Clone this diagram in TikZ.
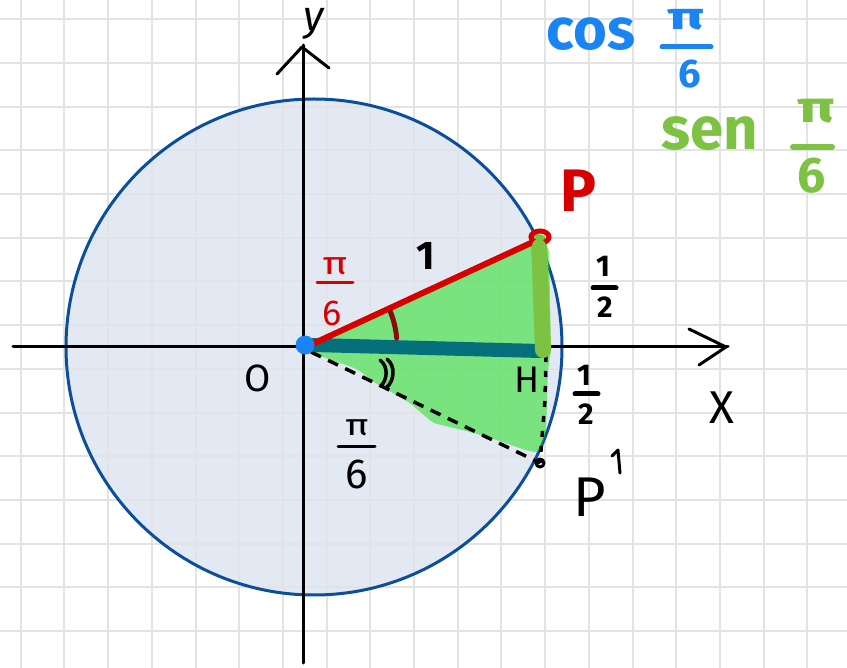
\documentclass[tikz,border=0pt]{standalone}
\usepackage{fontspec}
\usepackage{graphicx}
\setmainfont{Fira Sans}
\definecolor{circfill}{HTML}{E3E9F2}
\definecolor{circline}{HTML}{0B4F9C}
\definecolor{myred}{HTML}{D60000}
\definecolor{darkred}{HTML}{8B0A0A}
\definecolor{myblue}{HTML}{1A84F2}
\definecolor{mygreen}{HTML}{7DC242}
\definecolor{tealc}{HTML}{066F7C}
\definecolor{fillgreen}{HTML}{22E022}
\newcommand{\fs}[1]{\fontsize{#1}{#1}\selectfont}
\tikzset{
  gridline/.style={black!11, line width=2pt},
  axisline/.style={black, line width=3pt, line cap=round, line join=round},
  lbl/.style={inner sep=0pt, outer sep=0pt},
  fracbar/.style={line width=#1, line cap=round},
  pen/.style={black, line width=3.5pt, line cap=round, line join=round},
}
\begin{document}
\begin{tikzpicture}[x=1pt,y=-1pt]
\useasboundingbox (0,0) rectangle (847,668);
\fill[white] (0,0) rectangle (847,668);
% circle fill
\fill[circfill] (314,347) circle[radius=248pt];
% grid
\foreach \k in {0,...,18} \draw[gridline] ({20.7+43.7*\k},0) -- ({20.7+43.7*\k},668);
\foreach \k in {0,...,14} \draw[gridline] (0,{19.3+43.7*\k}) -- (847,{19.3+43.7*\k});
% circle outline
\draw[circline, line width=3pt] (314,347) circle[radius=248pt];
% axes
\coordinate (xl) at (13,347);
\coordinate (xr) at (728,347);
\coordinate (yt) at (303,45);
\coordinate (yb) at (303,663);
\draw[axisline] (xl) -- (xr);
\draw[axisline] (yb) -- (yt);
\draw[axisline] (689,329) -- (726,347) -- (699,365);
\draw[axisline] (277,74) -- (302,47) -- (329,68);
% points
\coordinate (O) at (308,346);
\coordinate (P) at (539,239);
\coordinate (H) at (545,351);
\coordinate (Pp) at (540,463);
% green fill
\fill[fillgreen, opacity=0.55, rounded corners=5pt] (308,345) -- (536,240) -- (549,247) -- (551,350) -- (548,370) -- (546,432) -- (539,453) -- (525,450) -- (500,441) -- (470,432) -- (433,423) -- (410,403) -- (377,384) -- (357,369) -- (315,354) -- cycle;
% dashed lines
\draw[pen, line cap=butt, dash pattern=on 11pt off 8pt] (311,352) -- (Pp);
\draw[pen, line cap=butt, dash pattern=on 6pt off 9pt] (546,356) -- (545,400) -- (Pp);
\draw[pen, line width=3pt] (Pp) circle[radius=4pt];
% teal segment
\draw[tealc, line width=14pt, line cap=round] (313,345) -- (540,351);
% olive vertical
\draw[mygreen, line width=16pt, line cap=round] (539,242) -- (543,350);
% red radius
\draw[myred, line width=6pt, line cap=round] (O) -- (533,242);
\draw[myred, line width=5pt] (540,237) ellipse[x radius=9pt, y radius=6pt];
\draw[mygreen, line width=14pt, line cap=round] (539,246) -- (540,260);
% angle marks
\draw[darkred, line width=5pt, line cap=round] plot[domain=5:22, smooth, variable=\t] ({305+92*cos(\t)},{346-92*sin(\t)});
\draw[pen] (380,360) .. controls (389,367) and (387,380) .. (381,386);
\draw[pen] (387,359) .. controls (396,366) and (394,381) .. (387,387);
% blue dot
\fill[myblue] (305,345) circle[radius=9.5pt];
% labels
\node[lbl, font=\fs{42}\itshape] (ylab) at (314,24) {y};
\node[lbl, font=\fs{46}] (xlab) at (722,408) {X};
\node[lbl, font=\fs{38}] (olab) at (258,378) {O};
\node[lbl, font=\fs{40}\bfseries] (one) at (426,256) {1};
\node[lbl, font=\fs{60}\bfseries, text=myred] (Plab) at (578,191) {P};
\node[lbl, font=\fs{37}] (hlab) at (527,380) {H};
\node[lbl, font=\fs{56}] (pplab) at (590,497) {P};
\coordinate (pr1) at (612,456);
\coordinate (pr2) at (618,450);
\coordinate (pr3) at (620,473);
\draw[pen, line width=3pt] (pr1) -- (pr2) -- (pr3);
% cos pi/6
\node[lbl, font=\fs{58}\bfseries, text=myblue] (cos) at (591,34) {cos};
\node[lbl, font=\fs{38}\bfseries, text=myblue] (cnum) at (686,20) {\scalebox{1.6}[1]{π}};
\node[lbl, font=\fs{40}\bfseries, text=myblue] (cden) at (690,74) {6};
\draw[myblue, fracbar=5pt] (662,47) -- (711,47);
% sen pi/6
\node[lbl, font=\fs{60}\bfseries, text=mygreen] (sen) at (710,134) {sen};
\node[lbl, font=\fs{44}\bfseries, text=mygreen] (snum) at (816,111) {\scalebox{1.4}[1]{π}};
\node[lbl, font=\fs{50}\bfseries, text=mygreen] (sden) at (812,176) {6};
\draw[mygreen, fracbar=6pt] (793,147) -- (832,147);
% red pi/6
\node[lbl, font=\fs{32}, text=myred] (rnum) at (335,266) {\scalebox{1.3}[1]{π}};
\node[lbl, font=\fs{36}, text=myred] (rden) at (332,313) {6};
\draw[myred, fracbar=3pt] (317,283) -- (353,283);
% black pi/6
\node[lbl, font=\fs{30}] (bnum) at (357,428) {\scalebox{1.3}[1]{π}};
\node[lbl, font=\fs{42}] (bden) at (357,474) {6};
\draw[black, fracbar=3pt] (338,447) -- (375,447);
% 1/2 upper
\node[lbl, font=\fs{30}\bfseries] (hnum1) at (603,266) {1};
\node[lbl, font=\fs{30}\bfseries] (hden1) at (605,307) {2};
\draw[black, fracbar=5pt] (593,288) -- (616,288);
% 1/2 lower
\node[lbl, font=\fs{30}\bfseries] (hnum2) at (584,375) {1};
\node[lbl, font=\fs{30}\bfseries] (hden2) at (586,414) {2};
\draw[black, fracbar=5pt] (575,394) -- (598,394);
\end{tikzpicture}
\end{document}
